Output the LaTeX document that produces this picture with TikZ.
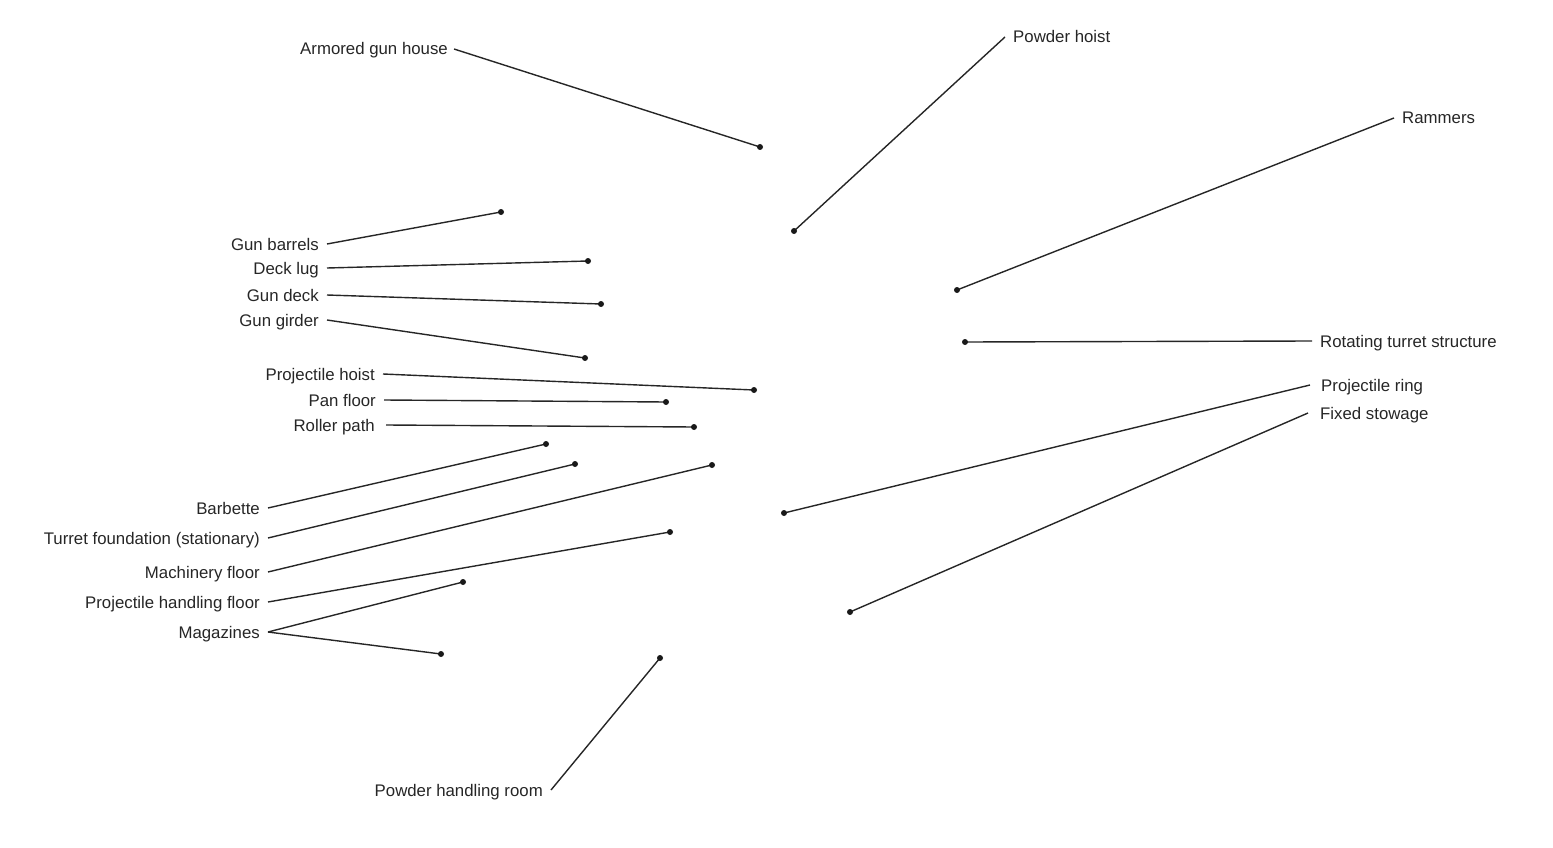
\documentclass[tikz,border=0pt]{standalone}
\usepackage{fontspec}
\setmainfont{Liberation Sans}
\begin{document}
\begin{tikzpicture}[x=1pt,y=-1pt,
  lbl/.style={inner xsep=8pt, inner ysep=0pt, text height=12pt, text depth=0pt, font=\fontsize{16.8}{20}\selectfont, text=black!85},
  lead/.style={draw=black!85, line width=1.4pt},
  dotmark/.style={fill=black!90}]
\useasboundingbox (0,0) rectangle (1553,848);
% dot coordinates
\coordinate (pagh) at (760,147);
\coordinate (pgb) at (501,212);
\coordinate (pdl) at (588,261);
\coordinate (pgd) at (601,304);
\coordinate (pgg) at (585,358);
\coordinate (pph) at (754,390);
\coordinate (ppf) at (666,402);
\coordinate (prp) at (694,427);
\coordinate (pbb) at (546,444);
\coordinate (ptf) at (575,464);
\coordinate (pmf) at (712,465);
\coordinate (phf) at (670,532);
\coordinate (pmga) at (463,582);
\coordinate (pmgb) at (441,654);
\coordinate (phr) at (660,658);
\coordinate (ppo) at (794,231);
\coordinate (pra) at (957,290);
\coordinate (prt) at (965,342);
\coordinate (ppr) at (784,513);
\coordinate (pfs) at (850,612);
% left labels
\node[lbl, anchor=east, inner xsep=6pt] (agh) at (454,49) {Armored gun house};
\node[lbl, anchor=east] (gb) at (327,244) {Gun barrels};
\node[lbl, anchor=east] (dl) at (327,268) {Deck lug};
\node[lbl, anchor=east] (gd) at (327,295) {Gun deck};
\node[lbl, anchor=east] (gg) at (327,320) {Gun girder};
\node[lbl, anchor=east] (ph) at (383,374) {Projectile hoist};
\node[lbl, anchor=east] (pf) at (384,400) {Pan floor};
\node[lbl, anchor=east, inner xsep=11pt] (rp) at (386,425) {Roller path};
\node[lbl, anchor=east] (bb) at (268,508) {Barbette};
\node[lbl, anchor=east] (tf) at (268,538) {Turret foundation (stationary)};
\node[lbl, anchor=east] (mf) at (268,572) {Machinery floor};
\node[lbl, anchor=east] (hf) at (268,602) {Projectile handling floor};
\node[lbl, anchor=east] (mg) at (268,632) {Magazines};
\node[lbl, anchor=east] (hr) at (551,790) {Powder handling room};
% right labels
\node[lbl, anchor=west] (po) at (1005,37) {Powder hoist};
\node[lbl, anchor=west] (ra) at (1394,118) {Rammers};
\node[lbl, anchor=west] (rt) at (1312,341) {Rotating turret structure};
\node[lbl, anchor=west, inner xsep=11pt] (pr) at (1310,385) {Projectile ring};
\node[lbl, anchor=west, inner xsep=12pt] (fs) at (1308,413) {Fixed stowage};
% leaders
\draw[lead] (agh.east) -- (pagh);
\draw[lead] (gb.east) -- (pgb);
\draw[lead] (dl.east) -- (pdl);
\draw[lead] (gd.east) -- (pgd);
\draw[lead] (gg.east) -- (pgg);
\draw[lead] (ph.east) -- (pph);
\draw[lead] (pf.east) -- (ppf);
\draw[lead] (rp.east) -- (prp);
\draw[lead] (bb.east) -- (pbb);
\draw[lead] (tf.east) -- (ptf);
\draw[lead] (mf.east) -- (pmf);
\draw[lead] (hf.east) -- (phf);
\draw[lead] (mg.east) -- (pmga);
\draw[lead] (mg.east) -- (pmgb);
\draw[lead] (hr.east) -- (phr);
\draw[lead] (po.west) -- (ppo);
\draw[lead] (ra.west) -- (pra);
\draw[lead] (rt.west) -- (prt);
\draw[lead] (pr.west) -- (ppr);
\draw[lead] (fs.west) -- (pfs);
% dots
\foreach \p in {pagh,pgb,pdl,pgd,pgg,pph,ppf,prp,pbb,ptf,pmf,phf,pmga,pmgb,phr,ppo,pra,prt,ppr,pfs}
  \fill[dotmark] (\p) circle (3pt);
\end{tikzpicture}
\end{document}
